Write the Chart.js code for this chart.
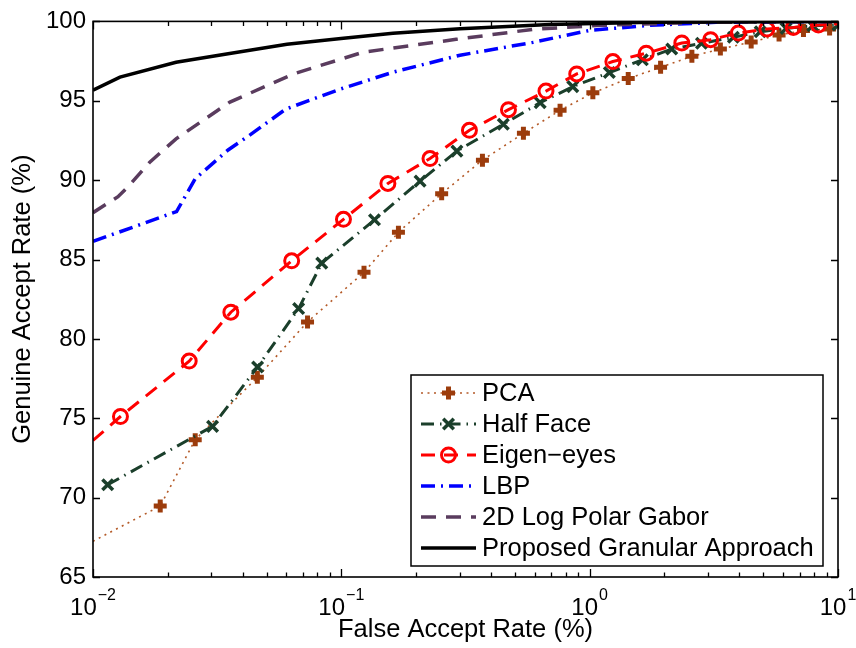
<!DOCTYPE html>
<html>
<head>
<meta charset="utf-8">
<script src="https://cdn.jsdelivr.net/npm/chart.js@4.4.1/dist/chart.umd.min.js"></script>
<style>
  html, body { margin: 0; padding: 0; background: #ffffff; }
  #wrap { width: 856px; height: 648px; }
</style>
</head>
<body>
<div id="wrap"><canvas id="c" width="856" height="648"></canvas></div>
<script>
// ---- data ----
const seriesNames = ['PCA', 'Half Face', 'Eigen\u2212eyes', 'LBP', '2D Log Polar Gabor', 'Proposed Granular Approach'];

const pcaX = [0.01, 0.01865, 0.0258, 0.0459, 0.0731, 0.1234, 0.1698, 0.2535, 0.37, 0.541, 0.76, 1.03, 1.43, 1.93, 2.58, 3.36, 4.47, 5.79, 7.26, 9.25];
const pcaY = [67.25, 69.47, 73.65, 77.58, 81.07, 84.19, 86.72, 89.15, 91.26, 92.95, 94.4, 95.5, 96.4, 97.11, 97.8, 98.26, 98.7, 99.15, 99.42, 99.52];

const halfX = [0.01146, 0.0303, 0.046, 0.0673, 0.0834, 0.136, 0.2075, 0.292, 0.449, 0.632, 0.855, 1.2, 1.63, 2.14, 2.82, 3.79, 4.86, 6.18, 7.91, 10];
const halfY = [70.81, 74.49, 78.23, 81.91, 84.77, 87.5, 89.94, 91.83, 93.52, 94.88, 95.89, 96.78, 97.58, 98.26, 98.62, 99.0, 99.35, 99.56, 99.73, 99.77];

const eigenX = [0.01, 0.0129, 0.0244, 0.0359, 0.0631, 0.102, 0.154, 0.2275, 0.328, 0.471, 0.667, 0.887, 1.24, 1.69, 2.35, 3.07, 3.97, 5.17, 6.61, 8.34, 10];
const eigenY = [73.6, 75.11, 78.6, 81.68, 84.92, 87.53, 89.79, 91.36, 93.14, 94.44, 95.61, 96.69, 97.47, 98.0, 98.64, 98.85, 99.27, 99.52, 99.62, 99.77, 99.85];

const lbpX = [0.01, 0.0217, 0.0258, 0.035, 0.0429, 0.0598, 0.0988, 0.1614, 0.3006, 0.591, 1.004, 1.75, 3.23, 10];
const lbpY = [86.14, 88.02, 90.09, 91.9, 92.85, 94.48, 95.73, 96.8, 97.87, 98.68, 99.44, 99.75, 99.94, 100];

const gaborX = [0.01, 0.01261, 0.01384, 0.01697, 0.0216, 0.0356, 0.0639, 0.1223, 0.29, 0.591, 1.1, 2.8, 10];
const gaborY = [87.95, 88.96, 89.59, 91.15, 92.6, 94.92, 96.68, 98.06, 98.87, 99.5, 99.75, 99.94, 100];

const propX = [0.01, 0.01284, 0.0216, 0.035, 0.0604, 0.0997, 0.1614, 0.3006, 0.692, 1.75, 10];
const propY = [95.67, 96.49, 97.43, 97.96, 98.56, 98.93, 99.25, 99.53, 99.81, 99.94, 100];

// tick labels
const xDecades = [0.01, 0.1, 1, 10];
const xTickBase = ['10', '10', '10', '10'];
const xTickExp = ['\u22122', '\u22121', '0', '1'];
const yMin = 65, yMax = 100, yStep = 5;

// ---- helpers ----
const FONT = '"Liberation Sans", Arial, Helvetica, sans-serif';
function pts(xs, ys) { return xs.map((x, i) => ({ x: x, y: ys[i] })); }
function radii(n, r, hideFirst, hideLast) {
  return Array.from({ length: n }, (_, i) => ((hideFirst && i === 0) || (hideLast && i === n - 1)) ? 0 : r);
}

const datasets = [
  {
    label: seriesNames[0], data: pts(pcaX, pcaY),
    borderColor: '#b45a28', borderWidth: 1.6, borderDash: [2, 4.5],
    pointStyle: 'cross', pointRadius: radii(pcaX.length, 6.5, true, false),
    pointBorderWidth: 5, pointBorderColor: '#9c3c0c', pointBackgroundColor: '#9c3c0c',
    order: 6
  },
  {
    label: seriesNames[1], data: pts(halfX, halfY),
    borderColor: '#1b3f2b', borderWidth: 3, borderDash: [13, 6, 1.5, 6],
    pointStyle: 'crossRot', pointRadius: radii(halfX.length, 7.5, false, false),
    pointBorderWidth: 3.5, pointBorderColor: '#1b3f2b', pointBackgroundColor: '#1b3f2b',
    order: 5
  },
  {
    label: seriesNames[2], data: pts(eigenX, eigenY),
    borderColor: '#ff0000', borderWidth: 3, borderDash: [14, 9],
    pointStyle: 'circle', pointRadius: radii(eigenX.length, 7, true, true),
    pointBorderWidth: 3, pointBorderColor: '#ff0000', pointBackgroundColor: 'rgba(255,255,255,0)',
    order: 4
  },
  {
    label: seriesNames[3], data: pts(lbpX, lbpY),
    borderColor: '#0000ff', borderWidth: 3.5, borderDash: [14, 6, 2, 6],
    pointRadius: 0, order: 3
  },
  {
    label: seriesNames[4], data: pts(gaborX, gaborY),
    borderColor: '#5a3c5e', borderWidth: 3.5, borderDash: [15, 10],
    pointRadius: 0, order: 2
  },
  {
    label: seriesNames[5], data: pts(propX, propY),
    borderColor: '#000000', borderWidth: 3.5,
    pointRadius: 0, order: 1
  }
];

const PLOT = { left: 93, right: 838, top: 19, bottom: 577 };

const framePlugin = {
  id: 'frame',
  afterDatasetsDraw(chart) {
    const ctx = chart.ctx, ca = chart.chartArea;
    const xs = chart.scales.x, ys = chart.scales.y;
    ctx.save();
    ctx.strokeStyle = '#000';
    ctx.lineWidth = 1.3;
    ctx.beginPath();
    for (let v = yMin; v <= yMax; v += yStep) {
      const p = Math.round(ys.getPixelForValue(v)) + 0.5;
      ctx.moveTo(ca.left, p); ctx.lineTo(ca.left + 7, p);
      ctx.moveTo(ca.right, p); ctx.lineTo(ca.right - 7, p);
    }
    xDecades.forEach((d, i) => {
      const vals = [[d, 8]];
      if (i < xDecades.length - 1) for (let m = 2; m <= 9; m++) vals.push([d * m, 4.5]);
      vals.forEach(([v, len]) => {
        const p = Math.round(xs.getPixelForValue(v)) + 0.5;
        ctx.moveTo(p, ca.bottom); ctx.lineTo(p, ca.bottom - len);
        ctx.moveTo(p, ca.top); ctx.lineTo(p, ca.top + len);
      });
    });
    ctx.stroke();
    ctx.lineWidth = 1.6;
    ctx.strokeRect(ca.left, ca.top, ca.right - ca.left, ca.bottom - ca.top);
    ctx.restore();
  },
  afterDraw(chart) {
    const ctx = chart.ctx, xs = chart.scales.x;
    ctx.save();
    ctx.fillStyle = '#000';
    xDecades.forEach((d, i) => {
      const px = xs.getPixelForValue(d);
      ctx.font = '24px ' + FONT;
      const bw = ctx.measureText(xTickBase[i]).width;
      ctx.font = '16px ' + FONT;
      const ew = ctx.measureText(xTickExp[i]).width;
      const start = px - (bw + ew + 1) / 2;
      ctx.textBaseline = 'alphabetic';
      ctx.textAlign = 'left';
      ctx.font = '24px ' + FONT;
      ctx.fillText(xTickBase[i], start, 615);
      ctx.font = '16px ' + FONT;
      ctx.fillText(xTickExp[i], start + bw + 1, 600);
    });

    // legend box
    const L = { x: 411, y: 375, w: 412, h: 191 };
    ctx.fillStyle = '#fff';
    ctx.fillRect(L.x, L.y, L.w, L.h);
    ctx.strokeStyle = '#000';
    ctx.lineWidth = 1.5;
    ctx.strokeRect(L.x, L.y, L.w, L.h);
    const rowY0 = 393, rowDy = 31;
    chart.data.datasets.forEach((ds, i) => {
      const y = rowY0 + i * rowDy;
      ctx.save();
      ctx.strokeStyle = ds.borderColor;
      ctx.lineWidth = ds.borderWidth;
      ctx.setLineDash(ds.borderDash || []);
      ctx.beginPath();
      ctx.moveTo(421, y); ctx.lineTo(476, y);
      ctx.stroke();
      ctx.setLineDash([]);
      if (ds.pointStyle) {
        const r = Array.isArray(ds.pointRadius) ? Math.max.apply(null, ds.pointRadius) : ds.pointRadius;
        ctx.fillStyle = ds.pointBackgroundColor;
        ctx.strokeStyle = ds.pointBorderColor;
        ctx.lineWidth = ds.pointBorderWidth;
        Chart.helpers.drawPoint(ctx, { pointStyle: ds.pointStyle, radius: r, borderWidth: ds.pointBorderWidth, rotation: 0 }, 448.5, y);
      }
      ctx.restore();
      ctx.fillStyle = '#000';
      ctx.font = '25.5px ' + FONT;
      ctx.textAlign = 'left';
      ctx.textBaseline = 'middle';
      ctx.fillText(ds.label, 482, y + 1);
    });
    ctx.restore();
  }
};

new Chart(document.getElementById('c'), {
  type: 'line',
  data: { datasets: datasets },
  options: {
    responsive: false,
    animation: false,
    devicePixelRatio: 1,
    layout: { padding: { left: 0, right: 856 - PLOT.right, top: PLOT.top, bottom: 0 } },
    plugins: { legend: { display: false }, tooltip: { enabled: false } },
    elements: { line: { tension: 0, fill: false } },
    scales: {
      x: {
        type: 'logarithmic', min: 0.01, max: 10,
        grid: { display: false }, border: { display: false },
        ticks: { display: false },
        title: { display: true, text: 'False Accept Rate (%)', color: '#000',
                 font: { family: FONT, size: 25.5 }, padding: { top: 0, bottom: 3 } },
        afterFit(s) { s.height = 648 - PLOT.bottom; }
      },
      y: {
        type: 'linear', min: yMin, max: yMax,
        grid: { display: false, drawTicks: false }, border: { display: false },
        ticks: { stepSize: yStep, color: '#000', padding: 7, font: { family: FONT, size: 24 } },
        title: { display: true, text: 'Genuine Accept Rate (%)', color: '#000',
                 font: { family: FONT, size: 25.5 }, padding: { top: 8, bottom: 0 } },
        afterFit(s) { s.width = PLOT.left; }
      }
    }
  },
  plugins: [framePlugin]
});
</script>
</body>
</html>
